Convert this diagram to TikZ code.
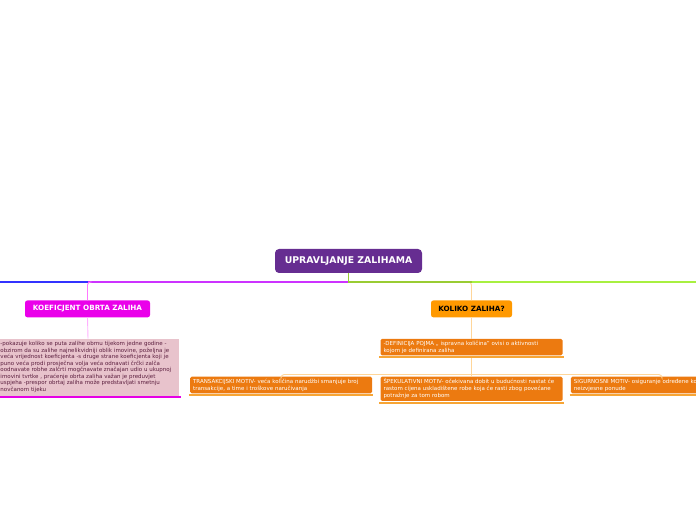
\documentclass[tikz,border=0pt]{standalone}
\usepackage{fontspec}
\setmainfont{DejaVu Sans}
\usetikzlibrary{positioning}

\definecolor{rootpurple}{HTML}{662D91}
\definecolor{koefpink}{HTML}{EA00EA}
\definecolor{kolorange}{HTML}{FF9900}
\definecolor{notepink}{HTML}{E8C3CC}
\definecolor{notetext}{HTML}{5C1F3F}
\definecolor{noteline}{HTML}{E600E6}
\definecolor{motorange}{HTML}{EC7A10}
\definecolor{motline}{HTML}{F7A535}
\definecolor{orconn}{HTML}{FFD699}
\definecolor{brgreen}{HTML}{99CC33}
\definecolor{brlime}{HTML}{A8F040}
\definecolor{brviolet}{HTML}{CC33FF}
\definecolor{brblue}{HTML}{3333FF}
\definecolor{pkconn}{HTML}{FF77FF}
\definecolor{pkconnlight}{HTML}{FFB0FF}

\begin{document}
\begin{tikzpicture}[
  x=1pt, y=1pt,
  rootbox/.style={rectangle,rounded corners=4pt,fill=rootpurple,text=white,font=\fontsize{9.3}{10}\selectfont\bfseries,minimum width=147pt,minimum height=24pt,inner sep=0pt},
  mainbox/.style={rectangle,rounded corners=2.5pt,font=\fontsize{7.2}{8}\selectfont\bfseries,minimum height=17pt,inner sep=0pt},
  koefbox/.style={mainbox,fill=koefpink,text=white,minimum width=125pt},
  kolbox/.style={mainbox,fill=kolorange,text=black,minimum width=81pt},
  notebox/.style={rectangle,fill=notepink,text=notetext,align=left,text width=175pt,inner xsep=3.5pt,inner ysep=3pt,font=\fontsize{5.5}{6.5}\selectfont},
  motbox/.style={rectangle,rounded corners=1.5pt,fill=motorange,text=white,align=left,text width=176pt,inner xsep=3pt,inner ysep=2pt,font=\fontsize{5.5}{7}\selectfont},
  uline/.style={line width=2pt},
  branch/.style={line width=1.3pt},
  conn/.style={line width=0.9pt}
]
\useasboundingbox (0,0) rectangle (696,520);
\clip (0,0) rectangle (696,520);

% main topic and branches
\node[rootbox] (root) at (348.5,259) {UPRAVLJANJE ZALIHAMA};
\node[koefbox, below=27pt of root, xshift=-261pt] (koef) {KOEFICJENT OBRTA ZALIHA};
\node[kolbox, below=27pt of root, xshift=123pt] (kol) {KOLIKO ZALIHA?};

\node[notebox, below=21pt of koef, xshift=0.5pt] (note) {-pokazuje koliko se puta zalihe obrnu tijekom jedne godine -\\
obzirom da su zalihe najnelikvidniji oblik imovine, poželjna je\\
veća vrijednost koeficjenta -s druge strane koeficjenta koji je\\
puno veća prodi prosječna volja veća odnavati črčki zalča\\
oodnavate robhe zalčrti mogčnavate značajan udio u ukupnoj\\
imovini tvrtke , praćenje obrta zaliha važan je preduvjet\\
uspjeha -prespor obrtaj zaliha može predstavljati smetnju\\
novčanom tijeku};

\node[motbox, below=21pt of kol] (def) {-DEFINICIJA POJMA ,, ispravna količina" ovisi o aktivnosti\\
kojom je definirana zaliha};
\node[motbox, below=21pt of def] (spek) {ŠPEKULATIVNI MOTIV- očekivana dobit u budućnosti nastat će\\
rastom cijena uskladištene robe koja će rasti zbog povećane\\
potražnje za tom robom};
\node[motbox, left=8pt of spek.north west, anchor=north east] (trans) {TRANSAKCIJSKI MOTIV- veća količina narudžbi smanjuje broj\\
transakcije, a time i troškove naručivanja};
\node[motbox, right=8pt of spek.north east, anchor=north west] (sig) {SIGURNOSNI MOTIV- osiguranje određene količine zaliha\\
neizvjesne ponude};

% connectors
\coordinate (hub) at (root.south |- 0,238);
\coordinate (kj) at (koef.north |- hub);
\coordinate (lend) at (-10,238);
\coordinate (rend) at (710,238);
\coordinate (fork) at ([yshift=-19pt]def.south);

\draw[branch,brblue] (kj) -- (lend);
\draw[branch,brviolet] (hub) -- (kj);
\draw[conn,pkconn,rounded corners=3pt] ([xshift=4pt]kj) -| (koef.north);
\draw[conn,orconn,rounded corners=3pt] (hub) -| (kol.north);
\draw[branch,brgreen] (root.south) -- (hub) -- (kol.north |- hub);
\draw[branch,brlime] (kol.north |- hub) -- (rend);

\draw[conn,pkconnlight] (koef.south) -- (note.north);
\draw[conn,orconn] (kol.south) -- (def.north);
\draw[conn,orconn] (def.south) -- (spek.north);
\draw[conn,orconn,rounded corners=3pt] (fork) -| (trans.north);
\draw[conn,orconn,rounded corners=3pt] (fork) -| (sig.north);

% underlines
\draw[uline,noteline] ([yshift=-1.5pt]note.south west) -- ([yshift=-1.5pt,xshift=2pt]note.south east);
\draw[uline,motline] ([yshift=-1.5pt,xshift=-1pt]def.south west) -- ([yshift=-1.5pt,xshift=1pt]def.south east);
\draw[uline,motline] ([yshift=-1.5pt,xshift=-1pt]trans.south west) -- ([yshift=-1.5pt,xshift=1pt]trans.south east);
\draw[uline,motline] ([yshift=-1.5pt,xshift=-1pt]spek.south west) -- ([yshift=-1.5pt,xshift=1pt]spek.south east);
\draw[uline,motline] ([yshift=-1.5pt,xshift=-1pt]sig.south west) -- ([yshift=-1.5pt,xshift=1pt]sig.south east);
\end{tikzpicture}
\end{document}
